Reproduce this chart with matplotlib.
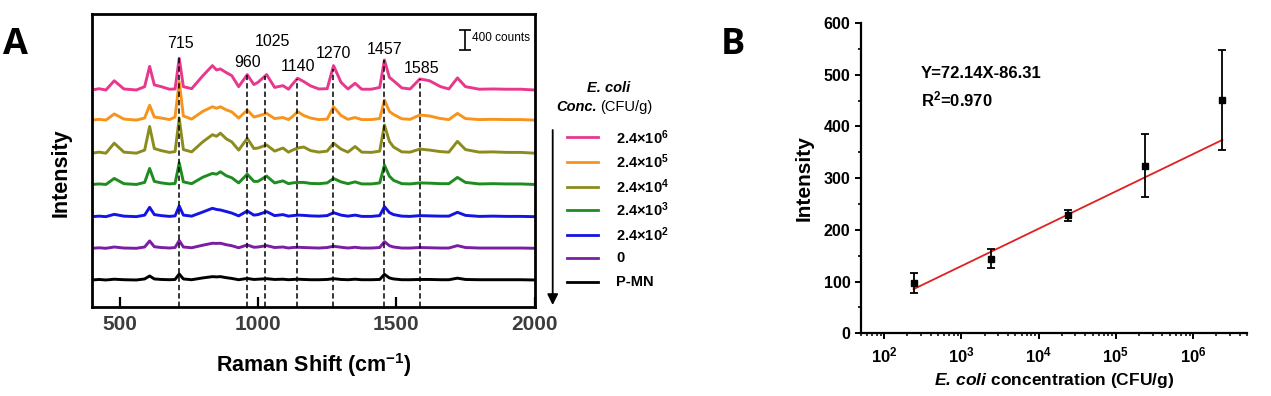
import numpy as np
import matplotlib.pyplot as plt
from matplotlib.ticker import FixedLocator, AutoMinorLocator, LogLocator, FuncFormatter, NullFormatter

plt.rcParams['font.family'] = ['Liberation Sans', 'DejaVu Sans']
plt.rcParams['mathtext.fontset'] = 'custom'
plt.rcParams['mathtext.rm'] = 'Liberation Sans'
plt.rcParams['mathtext.bf'] = 'Liberation Sans:bold'
plt.rcParams['mathtext.it'] = 'Liberation Sans:italic'
plt.rcParams['mathtext.bfit'] = 'Liberation Sans:italic:bold'

# === Panel A: Raman spectra (counts above each baseline) ===
raman_shift = [400, 425, 450, 480, 515, 560, 590, 608, 625, 650, 680, 700, 715, 730, 760,
               800, 835, 850, 864, 885, 905, 930, 961, 985, 1000, 1031, 1060, 1090, 1110,
               1125, 1143, 1165, 1190, 1220, 1250, 1273, 1300, 1325, 1351, 1375, 1410, 1440,
               1457, 1475, 1490, 1520, 1550, 1585, 1620, 1660, 1690, 1721, 1750, 1800, 1850,
               1900, 1950, 2000]

spec_1e6 = [0, 25, 0, 180, 20, 0, 65, 460, 100, 65, 15, 20, 620, 65, 25, 275, 475, 390, 410,
            340, 280, 65, 300, 105, 150, 300, 50, 85, 15, 115, 230, 165, 80, 20, 25, 475, 150,
            20, 130, 15, 15, 50, 585, 245, 180, 40, 20, 215, 180, 65, 20, 235, 65, 15, 20, 15,
            15, 0]
spec_1e5 = [0, 15, 0, 120, 20, 0, 40, 290, 60, 40, 10, 60, 750, 80, 20, 170, 260, 230, 260,
            200, 160, 40, 195, 60, 80, 130, 30, 50, 10, 70, 165, 90, 40, 10, 20, 260, 90, 15,
            50, 10, 10, 30, 390, 170, 110, 25, 15, 100, 80, 30, 10, 130, 30, 10, 15, 10, 10, 0]
spec_1e4 = [0, 20, 0, 195, 20, 0, 60, 520, 90, 50, 15, 30, 680, 70, 25, 220, 360, 330, 390,
            280, 220, 60, 290, 90, 100, 160, 40, 100, 20, 60, 100, 120, 50, 20, 40, 195, 80, 20,
            130, 20, 15, 40, 550, 230, 120, 25, 20, 80, 60, 30, 20, 230, 70, 20, 25, 15, 15, 0]
spec_1e3 = [0, 10, 0, 117, 15, 0, 40, 312, 60, 30, 10, 20, 423, 50, 15, 140, 215, 200, 247,
            170, 130, 30, 200, 60, 60, 163, 30, 70, 15, 30, 40, 40, 20, 15, 30, 117, 50, 15, 50,
            10, 10, 30, 377, 160, 80, 15, 10, 30, 25, 15, 15, 137, 40, 10, 15, 10, 10, 0]
spec_1e2 = [0, 10, 0, 45, 10, 0, 30, 182, 40, 20, 5, 15, 208, 30, 10, 90, 163, 140, 130, 100,
            70, 15, 110, 30, 40, 98, 20, 40, 10, 20, 30, 25, 15, 10, 20, 78, 30, 10, 30, 5, 5,
            20, 195, 80, 40, 10, 5, 20, 15, 10, 10, 85, 25, 5, 10, 5, 5, 0]
spec_0 = [0, 10, 0, 25, 5, 0, 25, 143, 30, 15, 5, 15, 150, 25, 10, 60, 98, 95, 98, 70, 50, 10,
          65, 20, 25, 52, 15, 25, 5, 15, 20, 15, 10, 5, 15, 40, 20, 5, 20, 5, 5, 15, 130, 50,
          25, 5, 5, 15, 10, 5, 5, 52, 15, 5, 5, 5, 5, 0]
spec_pmn = [0, 10, 0, 15, 5, 0, 20, 78, 20, 10, 5, 10, 117, 20, 5, 40, 65, 60, 65, 45, 30, 5,
            30, 10, 15, 25, 10, 15, 5, 10, 15, 10, 5, 5, 10, 25, 10, 5, 15, 5, 5, 10, 110, 40,
            20, 5, 5, 10, 10, 5, 5, 35, 10, 5, 5, 5, 5, 0]

spectra = [spec_1e6, spec_1e5, spec_1e4, spec_1e3, spec_1e2, spec_0, spec_pmn]
baselines = [4232, 3645, 3000, 2390, 1762, 1145, 527]
series_labels = [r'2.4×10$^{\mathbf{6}}$', r'2.4×10$^{\mathbf{5}}$', r'2.4×10$^{\mathbf{4}}$',
                 r'2.4×10$^{\mathbf{3}}$', r'2.4×10$^{\mathbf{2}}$', '0', 'P-MN']
colors = ['#E8388E', '#F7941D', '#8C8C1E', '#1E8C1E', '#1414E6', '#7A1FA2', '#000000']

peaks = [715, 960, 1025, 1140, 1270, 1457, 1585]
peak_label_pos = [(720, 5142), (962, 4764), (1053, 5174), (1146, 4686),
                  (1271, 4934), (1457, 5025), (1590, 4655)]
scale_counts = 400

# === Panel B: calibration ===
conc = [2.4e2, 2.4e3, 2.4e4, 2.4e5, 2.4e6]
intensity = [96.5, 144.5, 228.5, 324, 451.5]
intensity_err = [19.5, 18.5, 10.5, 61, 96.5]
slope, intercept = 72.14, -86.31

W, H = 1271, 396
fig = plt.figure(figsize=(W / 100, H / 100), dpi=100)


def fx(px):
    return px / W


def fy(py):
    return 1 - py / H


# --- Panel A ---
axA = fig.add_axes([fx(92.1), fy(307), (534.6 - 92.1) / W, 293 / H])
for spec, base, c in zip(spectra, baselines, colors):
    axA.plot(raman_shift, np.array(spec) + base, color=c, lw=2.1, solid_joinstyle='round')

top_spec = np.array(spectra[0]) + baselines[0]
for pk, (lx, ly) in zip(peaks, peak_label_pos):
    ytop = np.interp(pk, raman_shift, top_spec)
    axA.plot([pk, pk], [0, ytop], color='k', lw=1.1, ls=(0, (3.5, 2)), zorder=5)
    axA.text(lx, ly, str(pk), fontsize=11.5, ha='center', va='center')

# scale bar
axA.errorbar([1750], [5011 + scale_counts / 2], yerr=scale_counts / 2, color='k',
             lw=1.2, capsize=4, capthick=1.2)
axA.text(1774, 5240, f'{scale_counts} counts', fontsize=8.5, ha='left', va='center')

axA.set_xlim(400, 2000)
axA.set_ylim(0, 5714)
axA.set_yticks([])
axA.xaxis.set_major_locator(FixedLocator([500, 1000, 1500, 2000]))
axA.tick_params(axis='x', direction='in', length=7, width=1.6, labelsize=15,
                labelcolor='#3c3c3c', pad=6)
for lab in axA.get_xticklabels():
    lab.set_fontweight('bold')
for sp in axA.spines.values():
    sp.set_linewidth(2)
axA.set_xlabel(r'Raman Shift (cm$^{\mathbf{-1}}$)', fontsize=15.5, fontweight='bold', va='center')
axA.xaxis.set_label_coords(0.5006, -0.198)
axA.set_ylabel('Intensity', fontsize=15.5, fontweight='bold', va='center')
axA.yaxis.set_label_coords(-0.071, 0.457)

# legend (manual, Origin style)
fig.text(fx(609), fy(88.3), 'E. coli', fontsize=10.5, fontweight='bold', fontstyle='italic',
         ha='center', va='center')
fig.text(fx(597), fy(106.7), 'Conc.', fontsize=10.5, fontweight='bold', fontstyle='italic',
         ha='right', va='center')
fig.text(fx(600), fy(106.7), '(CFU/g)', fontsize=10.5, ha='left', va='center')
row_y = [137.3, 161.7, 186.7, 210, 235, 258.3, 282]
for lab, c, ry in zip(series_labels, colors, row_y):
    fig.add_artist(plt.Line2D([fx(566.7), fx(598.3)], [fy(ry), fy(ry)], color=c, lw=2.0))
    fig.text(fx(616), fy(ry), lab, fontsize=10.5, fontweight='bold', ha='left', va='center')
axA.annotate('', xy=(fx(552.7), fy(305)), xytext=(fx(552.7), fy(130)),
             xycoords='figure fraction', textcoords='figure fraction',
             arrowprops=dict(arrowstyle='-|>', lw=1.3, color='k', mutation_scale=16,
                             shrinkA=0, shrinkB=0))

# --- Panel B ---
axB = fig.add_axes([fx(861), fy(333.3), (1247 - 861) / W, 310.3 / H])
xfit = np.array([conc[0], conc[-1]])
axB.plot(xfit, slope * np.log10(xfit) + intercept, color='#E02020', lw=1.3, zorder=2)
axB.errorbar(conc, intensity, yerr=intensity_err, fmt='s', color='k', ms=5,
             elinewidth=1.3, capsize=3, capthick=1.3, zorder=3)
axB.set_xscale('log')
axB.set_xlim(50, 5e6)
axB.set_ylim(0, 600)
axB.spines['top'].set_visible(False)
axB.spines['right'].set_visible(False)
for sp in ('left', 'bottom'):
    axB.spines[sp].set_linewidth(1.6)
axB.set_yticks([0, 100, 200, 300, 400, 500, 600])
axB.yaxis.set_minor_locator(AutoMinorLocator(2))
axB.xaxis.set_major_locator(LogLocator(base=10, numticks=10))
axB.xaxis.set_minor_locator(LogLocator(base=10, subs=np.arange(2, 10), numticks=12))
axB.xaxis.set_minor_formatter(NullFormatter())
axB.xaxis.set_major_formatter(FuncFormatter(
    lambda v, p: r'$\mathbf{10}^{\mathbf{%d}}$' % round(np.log10(v))))
axB.tick_params(axis='y', which='major', direction='out', length=4.5, width=1.4,
                labelsize=11.5, pad=3)
axB.tick_params(axis='y', which='minor', direction='out', length=2.5, width=1.2)
axB.tick_params(axis='x', which='major', direction='out', length=4, width=1.4,
                labelsize=12, pad=5)
axB.tick_params(axis='x', which='minor', direction='out', length=2.5, width=1.1)
for lab in axB.get_yticklabels():
    lab.set_fontweight('bold')
axB.set_ylabel('Intensity', fontsize=15, fontweight='bold', va='center')
axB.yaxis.set_label_coords(-0.148, 0.4995)
axB.set_xlabel(r'$\mathbfit{E.\,coli}$ concentration (CFU/g)', fontsize=12.5,
               fontweight='bold', va='center')
axB.xaxis.set_label_coords(0.5, -0.1505)
axB.text(0.155, 0.8357, 'Y=72.14X-86.31', transform=axB.transAxes, fontsize=12,
         fontweight='bold', ha='left', va='center')
axB.text(0.155, 0.7533, r'R$^{\mathbf{2}}$=0.970', transform=axB.transAxes, fontsize=12,
         fontweight='bold', ha='left', va='center')

# panel letters
fig.text(fx(15), fy(45.5), 'A', fontsize=26, fontweight='bold', family='Open Sans',
         ha='center', va='center')
fig.text(fx(732.8), fy(45), 'B', fontsize=26, fontweight='bold', family='Open Sans',
         ha='center', va='center')

fig.savefig('out.png', dpi=100)
